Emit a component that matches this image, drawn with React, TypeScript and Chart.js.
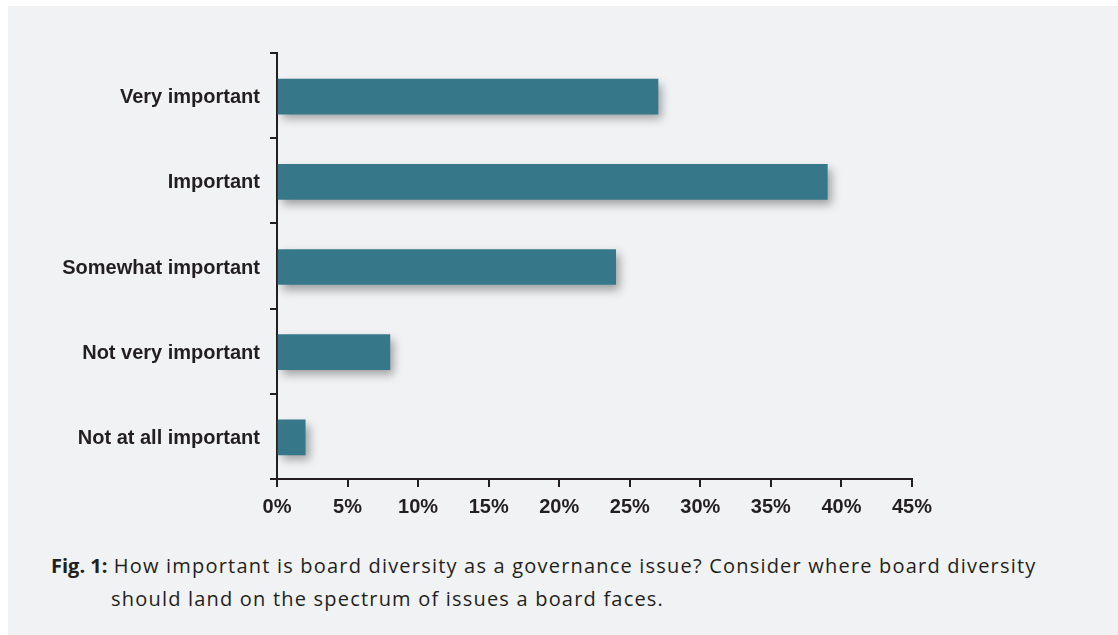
import React, { useEffect, useRef } from "react";
import { Chart, registerables } from "chart.js";

Chart.register(...registerables);

const categories = [
  "Very important",
  "Important",
  "Somewhat important",
  "Not very important",
  "Not at all important",
];
const shares = [27, 39, 24, 8, 2];
const xTicks = [0, 5, 10, 15, 20, 25, 30, 35, 40, 45];

const INK = "#231f20";
const BAR = "#367889";
const PANEL = "#f1f2f4";

const shadowPlugin = {
  id: "barShadow",
  beforeDatasetsDraw(chart: any) {
    const ctx = chart.ctx;
    ctx.save();
    ctx.translate(0, 1);
    ctx.shadowColor = "rgba(0,0,0,0.35)";
    ctx.shadowBlur = 9;
    ctx.shadowOffsetX = 4;
    ctx.shadowOffsetY = 5;
  },
  afterDatasetsDraw(chart: any) {
    chart.ctx.restore();
  },
};

export default function App() {
  const ref = useRef<HTMLCanvasElement | null>(null);

  useEffect(() => {
    if (!ref.current) return;
    const chart = new Chart(ref.current, {
      type: "bar",
      data: {
        labels: categories,
        datasets: [
          {
            data: shares,
            backgroundColor: BAR,
            borderWidth: 0,
            barThickness: 35,
          },
        ],
      },
      plugins: [shadowPlugin],
      options: {
        indexAxis: "y",
        animation: false,
        responsive: false,
        maintainAspectRatio: false,
        layout: { padding: { top: 47, right: 206, bottom: 0, left: 0 } },
        plugins: {
          legend: { display: false },
          tooltip: { enabled: false },
        },
        scales: {
          x: {
            type: "linear",
            min: 0,
            max: 45,
            afterBuildTicks: (scale: any) => {
              scale.ticks = xTicks.map((v) => ({ value: v }));
            },
            afterFit: (scale: any) => {
              scale.height = 51;
            },
            border: { display: true, color: INK, width: 2 },
            grid: {
              drawOnChartArea: false,
              drawTicks: true,
              tickLength: 8,
              color: INK,
              lineWidth: 2,
            },
            ticks: {
              padding: 8,
              color: INK,
              font: { family: "'Liberation Sans', Arial, sans-serif", size: 20, weight: "bold" },
              callback: (v: any) => v + "%",
            },
          },
          y: {
            afterFit: (scale: any) => {
              scale.width = 269;
            },
            border: { display: true, color: INK, width: 2 },
            grid: {
              offset: true,
              drawOnChartArea: false,
              drawTicks: true,
              tickLength: 7,
              color: INK,
              lineWidth: 2,
            },
            ticks: {
              padding: 10,
              labelOffset: 2,
              color: INK,
              font: { family: "'Liberation Sans', Arial, sans-serif", size: 20, weight: "bold" },
            },
          },
        },
      },
    } as any);
    return () => chart.destroy();
  }, []);

  return (
    <div
      style={{
        position: "absolute",
        left: 8,
        top: 6,
        width: 1110,
        height: 629,
        background: PANEL,
      }}
    >
      <canvas
        ref={ref}
        width={1110}
        height={524}
        style={{ position: "absolute", left: 0, top: 0, width: 1110, height: 524 }}
      />
      <div
        style={{
          position: "absolute",
          left: 43,
          top: 543,
          whiteSpace: "nowrap",
          fontFamily: "'Open Sans', Lato, sans-serif",
          fontSize: 20,
          lineHeight: "33px",
          letterSpacing: 1.2,
          color: INK,
        }}
      >
        <div>
          <span style={{ fontWeight: 700, letterSpacing: 0 }}>Fig. 1:</span> How important is board diversity as a governance issue? Consider where board diversity
        </div>
        <div style={{ paddingLeft: 60 }}>should land on the spectrum of issues a board faces.</div>
      </div>
    </div>
  );
}
